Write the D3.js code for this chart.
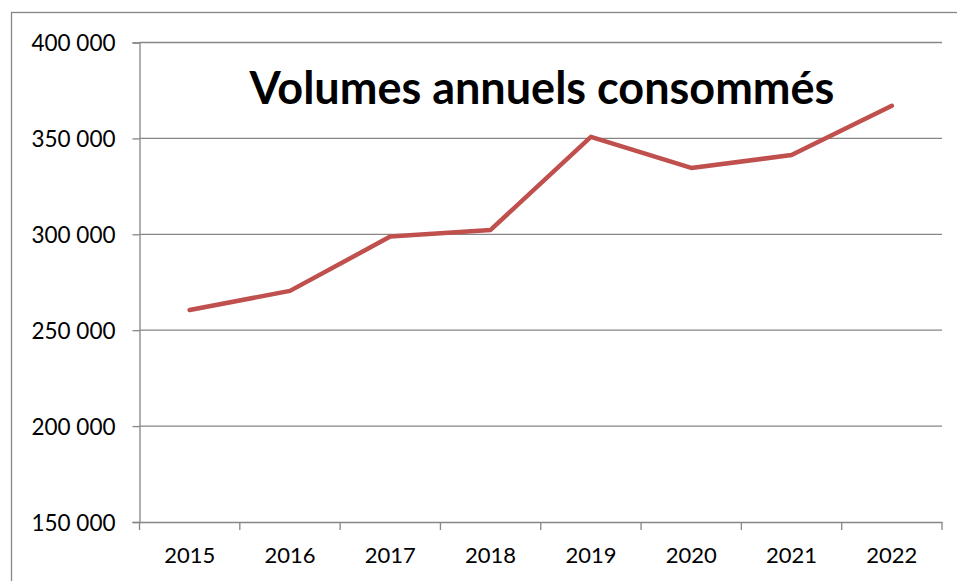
<!DOCTYPE html>
<html>
<head>
<meta charset="utf-8">
<script src="https://cdn.jsdelivr.net/npm/d3@7"></script>
<style>
  body { margin: 0; background: #fff; }
  text { font-family: Lato, "Open Sans", sans-serif; fill: #000; }
</style>
</head>
<body>
<div id="chart"></div>
<script>
// Data
const years = ["2015", "2016", "2017", "2018", "2019", "2020", "2021", "2022"];
const volumes = [260500, 270500, 298800, 302300, 350800, 334600, 341300, 367000];
const yTicks = [150000, 200000, 250000, 300000, 350000, 400000];
const title = "Volumes annuels consommés";

const width = 957;
const height = 581;
const margin = { top: 42.5, right: 15, bottom: 59, left: 139.5 };

const svg = d3
  .select("#chart")
  .append("svg")
  .attr("width", width)
  .attr("height", height);

// outer chart border (runs off right and bottom of the picture)
svg
  .append("rect")
  .attr("x", 11.5)
  .attr("y", 12.5)
  .attr("width", width + 20)
  .attr("height", height + 20)
  .attr("fill", "none")
  .attr("stroke", "#868686")
  .attr("stroke-width", 1.3);

const xScale = d3
  .scaleBand()
  .domain(years)
  .range([margin.left, width - margin.right]);

const yScale = d3
  .scaleLinear()
  .domain([150000, 400000])
  .range([height - margin.bottom, margin.top]);

const fmt = (v) => d3.format(",")(v).replace(/,/g, " ");

// gridlines
svg
  .append("g")
  .selectAll("line")
  .data(yTicks.slice(1))
  .join("line")
  .attr("x1", margin.left)
  .attr("x2", width - margin.right)
  .attr("y1", (d) => yScale(d))
  .attr("y2", (d) => yScale(d))
  .attr("stroke", "#868686")
  .attr("stroke-width", 1.3);

// y axis
const yAxis = svg
  .append("g")
  .attr("transform", `translate(${margin.left},0)`)
  .call(d3.axisLeft(yScale).tickValues(yTicks).tickFormat(fmt).tickSize(7).tickPadding(17));
yAxis.select(".domain").attr("stroke", "#868686").attr("stroke-width", 1.3);
yAxis.selectAll(".tick line").attr("stroke", "#868686").attr("stroke-width", 1.3);
yAxis
  .selectAll(".tick text")
  .style("font-size", "22.5px")
  .style("font-family", "Lato, sans-serif")
  .attr("dy", "0.36em");

// x axis with ticks at category boundaries
const xAxis = svg
  .append("g")
  .attr("transform", `translate(0,${height - margin.bottom})`)
  .call(d3.axisBottom(xScale).tickSize(0));
xAxis.select(".domain").attr("stroke", "#868686").attr("stroke-width", 1.3);
xAxis
  .selectAll(".tick text")
  .attr("y", 41)
  .attr("dy", 0)
  .style("font-size", "22px")
  .style("font-family", "Lato, sans-serif");
xAxis
  .selectAll(".boundary")
  .data(years.map((d) => xScale(d)).concat([xScale.range()[1]]))
  .join("line")
  .attr("class", "boundary")
  .attr("x1", (d) => d)
  .attr("x2", (d) => d)
  .attr("y1", 0)
  .attr("y2", 8)
  .attr("stroke", "#868686")
  .attr("stroke-width", 1.3);

// line
const lineGenerator = d3
  .line()
  .x((d, i) => xScale(years[i]) + xScale.bandwidth() / 2)
  .y((d) => yScale(d));
svg
  .append("path")
  .attr("d", lineGenerator(volumes))
  .attr("fill", "none")
  .attr("stroke", "#c0504d")
  .attr("stroke-width", 4.5)
  .attr("stroke-linejoin", "round")
  .attr("stroke-linecap", "round");

// title
svg
  .append("text")
  .attr("x", 542)
  .attr("y", 104)
  .attr("text-anchor", "middle")
  .style("font-size", "45px")
  .style("font-weight", "bold")
  .text(title);
</script>
</body>
</html>
